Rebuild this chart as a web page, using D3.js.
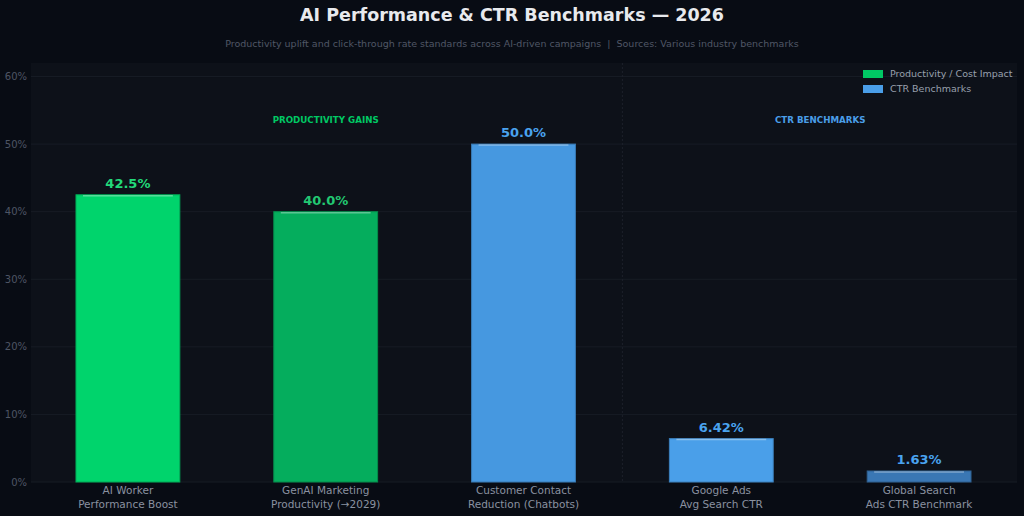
<!DOCTYPE html>
<html>
<head>
<meta charset="utf-8">
<script src="https://cdn.jsdelivr.net/npm/d3@7"></script>
<style>
  body { margin: 0; background: #080c14; }
  svg text { font-family: "DejaVu Sans", sans-serif; }
</style>
</head>
<body>
<div id="chart"></div>
<script>
// chart data
const categories = [
  ["AI Worker", "Performance Boost"],
  ["GenAI Marketing", "Productivity (\u21922029)"],
  ["Customer Contact", "Reduction (Chatbots)"],
  ["Google Ads", "Avg Search CTR"],
  ["Global Search", "Ads CTR Benchmark"]
];
const values = [42.5, 40.0, 50.0, 6.42, 1.63];
const valueLabels = ["42.5%", "40.0%", "50.0%", "6.42%", "1.63%"];
const barColors = ["#00d46c", "#05ad5d", "#4698e0", "#4a9fe9", "#3a77b4"];
const labelColors = ["#22d97a", "#22c872", "#4aa3ef", "#4aa3ef", "#4aa3ef"];
const yTicks = [0, 10, 20, 30, 40, 50, 60];
const legendItems = [
  { name: "Productivity / Cost Impact", color: "#00c864" },
  { name: "CTR Benchmarks", color: "#4a9ee8" }
];

const width = 1024, height = 516;
const margin = { top: 63, right: 7, bottom: 34, left: 31 };

const svg = d3.select("#chart").append("svg")
  .attr("width", width)
  .attr("height", height);

svg.append("rect")
  .attr("width", width).attr("height", height)
  .attr("fill", "#080c14");

// plot background
svg.append("rect")
  .attr("x", margin.left).attr("y", margin.top)
  .attr("width", width - margin.left - margin.right)
  .attr("height", height - margin.top - margin.bottom)
  .attr("fill", "#0d1119");

const x = d3.scaleLinear()
  .domain([-0.5, 4.5])
  .range([margin.left - 2, width - margin.right + 1]);
const y = d3.scaleLinear()
  .domain([0, 62])
  .range([height - margin.bottom, margin.top]);

// gridlines
svg.append("g")
  .selectAll("line")
  .data(yTicks)
  .join("line")
  .attr("x1", margin.left).attr("x2", width - margin.right)
  .attr("y1", d => y(d)).attr("y2", d => y(d))
  .attr("stroke", "#171c25")
  .attr("stroke-width", 1);

// y axis labels
svg.append("g")
  .selectAll("text")
  .data(yTicks)
  .join("text")
  .attr("x", 27)
  .attr("y", d => y(d))
  .attr("dy", "0.35em")
  .attr("text-anchor", "end")
  .attr("font-size", 10)
  .attr("fill", "#4e5564")
  .text(d => d + "%");

// divider between groups
svg.append("line")
  .attr("x1", x(2.5)).attr("x2", x(2.5))
  .attr("y1", margin.top).attr("y2", y(0))
  .attr("stroke", "#1c212b")
  .attr("stroke-dasharray", "2,2");

// group labels
svg.append("text")
  .attr("x", x(1)).attr("y", y(53.5))
  .attr("text-anchor", "middle")
  .attr("dy", "0.35em")
  .attr("font-size", 8.7)
  .attr("font-weight", "bold")
  .attr("fill", "#00c864")
  .text("PRODUCTIVITY GAINS");
svg.append("text")
  .attr("x", x(3.5)).attr("y", y(53.5))
  .attr("text-anchor", "middle")
  .attr("dy", "0.35em")
  .attr("font-size", 8.7)
  .attr("font-weight", "bold")
  .attr("fill", "#4a9ee8")
  .text("CTR BENCHMARKS");

const barW = 0.525;
const bars = svg.append("g");
values.forEach((v, i) => {
  const x0 = x(i - barW / 2), x1 = x(i + barW / 2);
  bars.append("rect")
    .attr("x", x0).attr("y", y(v))
    .attr("width", x1 - x0)
    .attr("height", y(0) - y(v))
    .attr("fill", barColors[i])
    .attr("stroke", d3.color(barColors[i]).darker(0.6))
    .attr("stroke-width", 1);
  // top highlight
  bars.append("line")
    .attr("x1", x0 + 7).attr("x2", x1 - 7)
    .attr("y1", y(v) + 1).attr("y2", y(v) + 1)
    .attr("stroke", "#ffffff")
    .attr("stroke-opacity", 0.35)
    .attr("stroke-width", 1.5);
  bars.append("text")
    .attr("x", x(i)).attr("y", y(v) - 7)
    .attr("text-anchor", "middle")
    .attr("font-size", 13)
    .attr("font-weight", "bold")
    .attr("fill", labelColors[i])
    .text(valueLabels[i]);
  const t = svg.append("text")
    .attr("x", x(i)).attr("y", 494)
    .attr("text-anchor", "middle")
    .attr("font-size", 10.5)
    .attr("fill", "#8a91a0");
  categories[i].forEach((line, k) => {
    t.append("tspan").attr("x", x(i)).attr("dy", k === 0 ? 0 : 13.5).text(line);
  });
});

// legend
const leg = svg.append("g").attr("transform", "translate(863,70)");
legendItems.forEach((d, i) => {
  leg.append("rect")
    .attr("x", 0).attr("y", i * 15)
    .attr("width", 20).attr("height", 8)
    .attr("fill", d.color);
  leg.append("text")
    .attr("x", 27).attr("y", i * 15 + 4)
    .attr("dy", "0.35em")
    .attr("font-size", 9.5)
    .attr("fill", "#98a0ad")
    .text(d.name);
});

// title
svg.append("text")
  .attr("x", width / 2).attr("y", 21)
  .attr("text-anchor", "middle")
  .attr("font-size", 17.5)
  .attr("font-weight", "bold")
  .attr("fill", "#e8eaee")
  .text("AI Performance & CTR Benchmarks \u2014 2026");
svg.append("text")
  .attr("x", width / 2).attr("y", 47)
  .attr("text-anchor", "middle")
  .attr("font-size", 9.5)
  .attr("fill", "#505766")
  .style("white-space", "pre")
  .text("Productivity uplift and click-through rate standards across AI-driven campaigns  |  Sources: Various industry benchmarks");
</script>
</body>
</html>
